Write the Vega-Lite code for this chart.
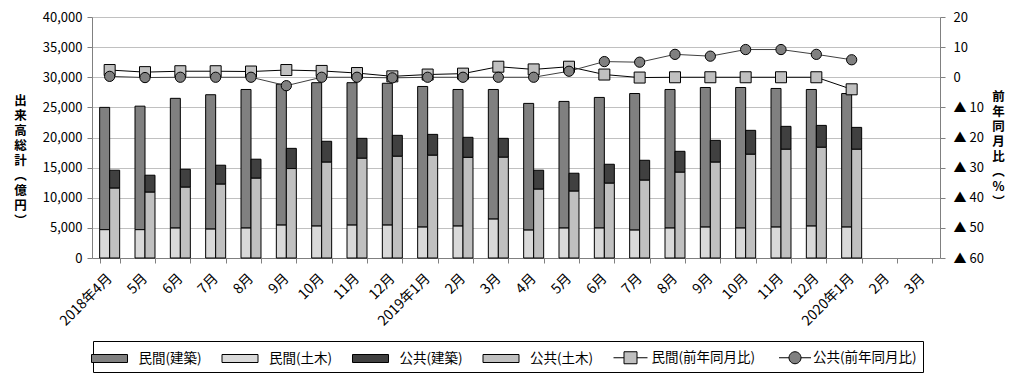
{
  "$schema": "https://vega.github.io/schema/vega-lite/v6.json",
  "width": 848,
  "height": 241,
  "autosize": {"type": "none"},
  "padding": {"left": 92, "top": 17, "right": 76, "bottom": 126},
  "background": "white",
  "config": {
    "font": "Noto Sans CJK JP",
    "view": {"stroke": null},
    "axis": {"labelFont": "Noto Sans CJK JP", "titleFont": "Noto Sans CJK JP", "labelColor": "#000000", "titleColor": "#000000", "domainColor": "#808080", "tickColor": "#808080", "gridColor": "#c0c0c0", "labelOverlap": false},
    "axisRight": {"labelOverlap": false, "labelSeparation": -30, "labelBound": false},
    "axisQuantitative": {"labelOverlap": false}
  },
  "datasets": {
    "bars": [
      {"m":"2018年4月","g":"民間","s":"民間(建築)","v":20300},{"m":"2018年4月","g":"民間","s":"民間(土木)","v":4700},{"m":"2018年4月","g":"公共","s":"公共(建築)","v":2980},{"m":"2018年4月","g":"公共","s":"公共(土木)","v":11590},
      {"m":"2018年5月","g":"民間","s":"民間(建築)","v":20500},{"m":"2018年5月","g":"民間","s":"民間(土木)","v":4700},{"m":"2018年5月","g":"公共","s":"公共(建築)","v":2820},{"m":"2018年5月","g":"公共","s":"公共(土木)","v":10920},
      {"m":"2018年6月","g":"民間","s":"民間(建築)","v":21530},{"m":"2018年6月","g":"民間","s":"民間(土木)","v":4970},{"m":"2018年6月","g":"公共","s":"公共(建築)","v":2980},{"m":"2018年6月","g":"公共","s":"公共(土木)","v":11750},
      {"m":"2018年7月","g":"民間","s":"民間(建築)","v":22300},{"m":"2018年7月","g":"民間","s":"民間(土木)","v":4800},{"m":"2018年7月","g":"公共","s":"公共(建築)","v":3150},{"m":"2018年7月","g":"公共","s":"公共(土木)","v":12250},
      {"m":"2018年8月","g":"民間","s":"民間(建築)","v":23000},{"m":"2018年8月","g":"民間","s":"民間(土木)","v":4970},{"m":"2018年8月","g":"公共","s":"公共(建築)","v":3160},{"m":"2018年8月","g":"公共","s":"公共(土木)","v":13240},
      {"m":"2018年9月","g":"民間","s":"民間(建築)","v":23400},{"m":"2018年9月","g":"民間","s":"民間(土木)","v":5460},{"m":"2018年9月","g":"公共","s":"公共(建築)","v":3360},{"m":"2018年9月","g":"公共","s":"公共(土木)","v":14840},
      {"m":"2018年10月","g":"民間","s":"民間(建築)","v":23800},{"m":"2018年10月","g":"民間","s":"民間(土木)","v":5300},{"m":"2018年10月","g":"公共","s":"公共(建築)","v":3470},{"m":"2018年10月","g":"公共","s":"公共(土木)","v":15900},
      {"m":"2018年11月","g":"民間","s":"民間(建築)","v":23640},{"m":"2018年11月","g":"民間","s":"民間(土木)","v":5460},{"m":"2018年11月","g":"公共","s":"公共(建築)","v":3310},{"m":"2018年11月","g":"公共","s":"公共(土木)","v":16550},
      {"m":"2018年12月","g":"民間","s":"民間(建築)","v":23540},{"m":"2018年12月","g":"民間","s":"民間(土木)","v":5460},{"m":"2018年12月","g":"公共","s":"公共(建築)","v":3480},{"m":"2018年12月","g":"公共","s":"公共(土木)","v":16880},
      {"m":"2019年1月","g":"民間","s":"民間(建築)","v":23340},{"m":"2019年1月","g":"民間","s":"民間(土木)","v":5130},{"m":"2019年1月","g":"公共","s":"公共(建築)","v":3470},{"m":"2019年1月","g":"公共","s":"公共(土木)","v":17050},
      {"m":"2019年2月","g":"民間","s":"民間(建築)","v":22670},{"m":"2019年2月","g":"民間","s":"民間(土木)","v":5300},{"m":"2019年2月","g":"公共","s":"公共(建築)","v":3330},{"m":"2019年2月","g":"公共","s":"公共(土木)","v":16700},
      {"m":"2019年3月","g":"民間","s":"民間(建築)","v":21510},{"m":"2019年3月","g":"民間","s":"民間(土木)","v":6460},{"m":"2019年3月","g":"公共","s":"公共(建築)","v":3140},{"m":"2019年3月","g":"公共","s":"公共(土木)","v":16720},
      {"m":"2019年4月","g":"民間","s":"民間(建築)","v":21030},{"m":"2019年4月","g":"民間","s":"民間(土木)","v":4630},{"m":"2019年4月","g":"公共","s":"公共(建築)","v":3150},{"m":"2019年4月","g":"公共","s":"公共(土木)","v":11420},
      {"m":"2019年5月","g":"民間","s":"民間(建築)","v":21020},{"m":"2019年5月","g":"民間","s":"民間(土木)","v":4970},{"m":"2019年5月","g":"公共","s":"公共(建築)","v":2980},{"m":"2019年5月","g":"公共","s":"公共(土木)","v":11090},
      {"m":"2019年6月","g":"民間","s":"民間(建築)","v":21680},{"m":"2019年6月","g":"民間","s":"民間(土木)","v":4970},{"m":"2019年6月","g":"公共","s":"公共(建築)","v":3150},{"m":"2019年6月","g":"公共","s":"公共(土木)","v":12410},
      {"m":"2019年7月","g":"民間","s":"民間(建築)","v":22670},{"m":"2019年7月","g":"民間","s":"民間(土木)","v":4630},{"m":"2019年7月","g":"公共","s":"公共(建築)","v":3310},{"m":"2019年7月","g":"公共","s":"公共(土木)","v":12910},
      {"m":"2019年8月","g":"民間","s":"民間(建築)","v":23000},{"m":"2019年8月","g":"民間","s":"民間(土木)","v":4970},{"m":"2019年8月","g":"公共","s":"公共(建築)","v":3480},{"m":"2019年8月","g":"公共","s":"公共(土木)","v":14230},
      {"m":"2019年9月","g":"民間","s":"民間(建築)","v":23170},{"m":"2019年9月","g":"民間","s":"民間(土木)","v":5130},{"m":"2019年9月","g":"公共","s":"公共(建築)","v":3630},{"m":"2019年9月","g":"公共","s":"公共(土木)","v":15900},
      {"m":"2019年10月","g":"民間","s":"民間(建築)","v":23330},{"m":"2019年10月","g":"民間","s":"民間(土木)","v":4970},{"m":"2019年10月","g":"公共","s":"公共(建築)","v":3980},{"m":"2019年10月","g":"公共","s":"公共(土木)","v":17210},
      {"m":"2019年11月","g":"民間","s":"民間(建築)","v":23010},{"m":"2019年11月","g":"民間","s":"民間(土木)","v":5130},{"m":"2019年11月","g":"公共","s":"公共(建築)","v":3810},{"m":"2019年11月","g":"公共","s":"公共(土木)","v":18040},
      {"m":"2019年12月","g":"民間","s":"民間(建築)","v":22670},{"m":"2019年12月","g":"民間","s":"民間(土木)","v":5300},{"m":"2019年12月","g":"公共","s":"公共(建築)","v":3640},{"m":"2019年12月","g":"公共","s":"公共(土木)","v":18370},
      {"m":"2020年1月","g":"民間","s":"民間(建築)","v":22170},{"m":"2020年1月","g":"民間","s":"民間(土木)","v":5130},{"m":"2020年1月","g":"公共","s":"公共(建築)","v":3640},{"m":"2020年1月","g":"公共","s":"公共(土木)","v":18040}
    ],
    "rates": [
      {"m":"2018年4月","s":"民間(前年同月比)","r":2.4},{"m":"2018年5月","s":"民間(前年同月比)","r":1.7},{"m":"2018年6月","s":"民間(前年同月比)","r":2.0},{"m":"2018年7月","s":"民間(前年同月比)","r":2.0},{"m":"2018年8月","s":"民間(前年同月比)","r":1.9},{"m":"2018年9月","s":"民間(前年同月比)","r":2.4},{"m":"2018年10月","s":"民間(前年同月比)","r":2.1},{"m":"2018年11月","s":"民間(前年同月比)","r":1.4},{"m":"2018年12月","s":"民間(前年同月比)","r":0.3},{"m":"2019年1月","s":"民間(前年同月比)","r":0.9},{"m":"2019年2月","s":"民間(前年同月比)","r":1.2},{"m":"2019年3月","s":"民間(前年同月比)","r":3.5},{"m":"2019年4月","s":"民間(前年同月比)","r":2.6},{"m":"2019年5月","s":"民間(前年同月比)","r":3.5},{"m":"2019年6月","s":"民間(前年同月比)","r":0.9},{"m":"2019年7月","s":"民間(前年同月比)","r":-0.1},{"m":"2019年8月","s":"民間(前年同月比)","r":0.0},{"m":"2019年9月","s":"民間(前年同月比)","r":0.0},{"m":"2019年10月","s":"民間(前年同月比)","r":0.0},{"m":"2019年11月","s":"民間(前年同月比)","r":0.0},{"m":"2019年12月","s":"民間(前年同月比)","r":0.0},{"m":"2020年1月","s":"民間(前年同月比)","r":-4.0},
      {"m":"2018年4月","s":"公共(前年同月比)","r":0.3},{"m":"2018年5月","s":"公共(前年同月比)","r":-0.1},{"m":"2018年6月","s":"公共(前年同月比)","r":0.0},{"m":"2018年7月","s":"公共(前年同月比)","r":0.0},{"m":"2018年8月","s":"公共(前年同月比)","r":0.0},{"m":"2018年9月","s":"公共(前年同月比)","r":-2.8},{"m":"2018年10月","s":"公共(前年同月比)","r":0.0},{"m":"2018年11月","s":"公共(前年同月比)","r":0.0},{"m":"2018年12月","s":"公共(前年同月比)","r":-0.2},{"m":"2019年1月","s":"公共(前年同月比)","r":0.0},{"m":"2019年2月","s":"公共(前年同月比)","r":0.0},{"m":"2019年3月","s":"公共(前年同月比)","r":0.0},{"m":"2019年4月","s":"公共(前年同月比)","r":0.0},{"m":"2019年5月","s":"公共(前年同月比)","r":2.0},{"m":"2019年6月","s":"公共(前年同月比)","r":5.2},{"m":"2019年7月","s":"公共(前年同月比)","r":5.0},{"m":"2019年8月","s":"公共(前年同月比)","r":7.6},{"m":"2019年9月","s":"公共(前年同月比)","r":7.0},{"m":"2019年10月","s":"公共(前年同月比)","r":9.2},{"m":"2019年11月","s":"公共(前年同月比)","r":9.2},{"m":"2019年12月","s":"公共(前年同月比)","r":7.6},{"m":"2020年1月","s":"公共(前年同月比)","r":5.8}
    ]
  },
  "layer": [
    {
      "data": {"name": "bars"},
      "mark": {"type": "bar", "stroke": "#000000", "strokeWidth": 1},
      "encoding": {
        "x": {
          "field": "m", "type": "nominal", "sort": null,
          "scale": {"domain": ["2018年4月","2018年5月","2018年6月","2018年7月","2018年8月","2018年9月","2018年10月","2018年11月","2018年12月","2019年1月","2019年2月","2019年3月","2019年4月","2019年5月","2019年6月","2019年7月","2019年8月","2019年9月","2019年10月","2019年11月","2019年12月","2020年1月","2020年2月","2020年3月"], "paddingInner": 0.434, "paddingOuter": 0.217},
          "axis": {"title": null, "labelAngle": -45, "labelFontSize": 14, "labelPadding": 8, "labelOffset": -5, "tickBand": "extent", "tickSize": 5, "grid": false,
            "labelExpr": "!isValid(datum.value) ? '' : (datum.value == '2018年4月' || indexof(datum.value, '年1月') > 0 ? datum.value : split(datum.value, '年')[1])"}
        },
        "xOffset": {"field": "g", "type": "nominal", "scale": {"domain": ["民間", "公共"], "paddingInner": 0, "paddingOuter": 0}},
        "y": {
          "field": "v", "type": "quantitative", "stack": "zero",
          "scale": {"domain": [0, 40000], "nice": false},
          "axis": {"values": [0,5000,10000,15000,20000,25000,30000,35000,40000], "format": ",d", "grid": true, "tickSize": 5, "labelPadding": 5, "labelFontSize": 13,
            "title": ["出","来","高","総","計","︵","億","円","︶"], "titleAngle": 0, "titleX": -72, "titleY": 83, "titleAlign": "center", "titleBaseline": "middle", "titleFontSize": 12.5, "titleFontWeight": "bold", "titleLineHeight": 15}
        },
        "color": {
          "field": "s", "type": "nominal",
          "scale": {"domain": ["民間(建築)","民間(土木)","公共(建築)","公共(土木)","民間(前年同月比)","公共(前年同月比)"], "range": ["#808080","#d9d9d9","#404040","#c0c0c0","#c0c0c0","#808080"]},
          "legend": {
            "orient": "none", "legendX": 1, "legendY": 324, "direction": "horizontal", "columns": 6, "title": null,
            "padding": 6, "strokeColor": "#000000", "fillColor": "#ffffff",
            "labelFont": "Noto Sans CJK JP", "labelFontSize": 13.5, "labelColor": "#000000", "labelOffset": 18.5, "labelLimit": 300,
            "columnPadding": 17.5, "symbolSize": 400, "symbolStrokeWidth": 1, "symbolStrokeColor": "#000000",
            "encode": {"symbols": {"update": {
              "shape": {"signal": "datum.value === '民間(前年同月比)' ? 'M-0.9,0H0.15M1.45,0H2.5M0.15,-0.6H1.45V0.6H0.15Z' : datum.value === '公共(前年同月比)' ? 'M-0.5,0H0.5M1.7,0H2.7M0.5,0A0.6,0.6 0 1,1 1.7,0A0.6,0.6 0 1,1 0.5,0Z' : 'M-1.8,-0.4H1.8V0.4H-1.8Z'"},
              "stroke": {"value": "#000000"}, "strokeWidth": {"value": 1}, "size": {"value": 400}, "opacity": {"value": 1}
            }}}
          }
        },
        "order": {"field": "s", "type": "nominal", "sort": "ascending"}
      }
    },
    {
      "data": {"name": "rates"},
      "encoding": {
        "x": {"field": "m", "type": "nominal", "sort": null},
        "y": {"field": "r", "type": "quantitative", "scale": {"domain": [-60, 20], "nice": false, "zero": false},
          "axis": {"orient": "right", "values": [-60,-50,-40,-30,-20,-10,0,10,20], "labelOverlap": false, "labelSeparation": -30, "labelBound": false, "grid": false, "tickSize": 5, "labelPadding": 8, "labelFontSize": 13,
            "labelExpr": "datum.value < 0 ? '▲ ' + (-datum.value) : '' + datum.value",
            "title": ["前","年","同","月","比","︵","%","︶"], "titleAngle": 0, "titleX": 58, "titleY": 79, "titleAlign": "center", "titleBaseline": "middle", "titleFontSize": 12.5, "titleFontWeight": "bold", "titleLineHeight": 15}}
      },
      "layer": [
        {
          "transform": [{"filter": "datum.s === '民間(前年同月比)'"}],
          "mark": {"type": "line", "strokeWidth": 1, "color": "#000000"}
        },
        {
          "transform": [{"filter": "datum.s === '公共(前年同月比)'"}],
          "mark": {"type": "line", "strokeWidth": 1, "color": "#404040"}
        },
        {
          "transform": [{"filter": "datum.s === '民間(前年同月比)'"}],
          "mark": {"type": "point", "shape": "square", "size": 121, "filled": true, "stroke": "#000000", "strokeWidth": 1, "opacity": 1},
          "encoding": {"color": {"field": "s", "type": "nominal"}}
        },
        {
          "transform": [{"filter": "datum.s === '公共(前年同月比)'"}],
          "mark": {"type": "point", "shape": "circle", "size": 105, "filled": true, "stroke": "#000000", "strokeWidth": 1, "opacity": 1},
          "encoding": {"color": {"field": "s", "type": "nominal"}}
        }
      ]
    }
  ],
  "resolve": {"scale": {"y": "independent"}}
}
